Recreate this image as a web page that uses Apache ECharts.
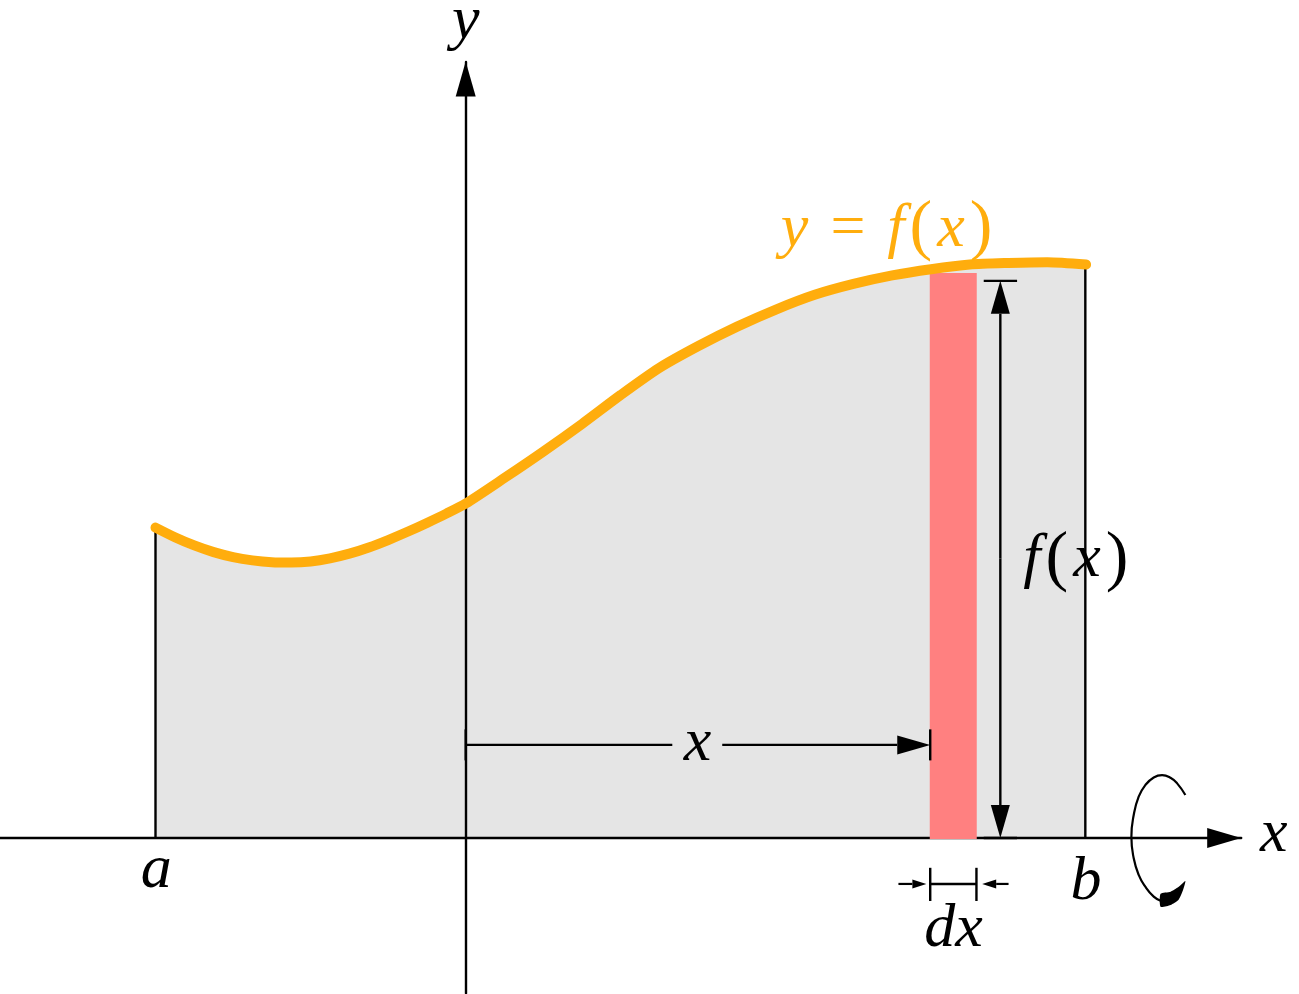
<!DOCTYPE html>
<html>
<head>
<meta charset="utf-8">
<style>html,body{margin:0;padding:0;background:#fff}#c{width:1299px;height:994px}</style>
<script src="https://cdn.jsdelivr.net/npm/echarts@6/dist/echarts.min.js"></script>
</head>
<body>
<div id="c"></div>
<script>
// curve y = f(x)
const curve = [[-2,2.00],[-1.875,1.938],[-1.75,1.885],[-1.625,1.842],[-1.5,1.81],[-1.375,1.789],[-1.25,1.777],[-1.125,1.775],
  [-1,1.782],[-0.875,1.802],[-0.75,1.832],[-0.625,1.872],[-0.5,1.92],[-0.375,1.973],[-0.25,2.03],[-0.125,2.09],
  [0,2.155],[0.25,2.32],[0.5,2.49],[0.75,2.668],[1,2.855],[1.25,3.03],[1.5,3.17],[1.75,3.295],[2,3.405],[2.25,3.50],
  [2.5,3.57],[2.75,3.625],[3,3.665],[3.25,3.695],[3.5,3.705],[3.75,3.71],[4,3.695]];
const strip = [[2.992,3.295,3.64]];
// thin line pieces [x1,y1,x2,y2]
const sides = [[-2,0,-2,2.0],[3.995,0,3.995,3.695]];
const dims = [[0,0.6,1.332,0.6],[0,0.5,0,0.7],[2.995,0.5,2.995,0.7],
  [3.34,3.59,3.555,3.59],[3.34,0,3.555,0],
  [2.995,-0.192,2.995,-0.406],[3.293,-0.192,3.293,-0.406],[2.995,-0.296,3.293,-0.296]];
// arrows [tailX,tailY,tipX,tipY]
const bigArrows = [[1.654,0.6,2.995,0.6],[3.447,1.8,3.447,3.59],[3.447,1.8,3.447,0]];
const smallArrows = [[2.79,-0.296,2.97,-0.296],[3.5,-0.296,3.33,-0.296]];
const turnArc = [[4.64,0.277],[4.587,0.352],[4.544,0.388],[4.49,0.405],[4.436,0.39],[4.382,0.341],[4.339,0.266],
  [4.307,0.148],[4.292,0.008],[4.307,-0.131],[4.339,-0.238],[4.382,-0.314],[4.436,-0.378],[4.48,-0.404]];
const turnHead = [[4.48,-0.36],[4.545,-0.346],[4.595,-0.316],[4.64,-0.277],[4.625,-0.335],[4.595,-0.40],[4.545,-0.432],[4.48,-0.443]];
const blackLabels = [
  [0,5.26,'{i|y}'],[5.21,0.02,'{i|x}'],[-1.995,-0.21,'{i|a}'],[4.0,-0.29,'{i|b}'],
  [3.145,-0.59,'{i|dx}'],[1.494,0.61,'{i|x}'],[3.95,1.79,'{i|f}{r|(}{i|x}{r|)}']
];
const orangeLabels = [[2.73,3.92,'{i|y}{e|=}{i|f}{r|(}{i|x}{r|)}']];

const ORANGE = '#ffad0d', GREY = '#e5e5e5', PINK = '#ff8080', BLACK = '#000';

function segSeries(data, z) {
  return { type:'custom', coordinateSystem:'cartesian2d', z, clip:false, silent:true,
    encode:{x:[0,2],y:[1,3]}, data,
    renderItem(p, api) {
      const a = api.coord([api.value(0),api.value(1)]), b = api.coord([api.value(2),api.value(3)]);
      return {type:'line', shape:{x1:a[0],y1:a[1],x2:b[0],y2:b[1]}, style:{stroke:BLACK,lineWidth:2.4,fill:null}};
    }};
}
function arrowSeries(data, len, half, lw) {
  return { type:'custom', coordinateSystem:'cartesian2d', z:6, clip:false, silent:true,
    encode:{x:[0,2],y:[1,3]}, data,
    renderItem(p, api) {
      const a = api.coord([api.value(0),api.value(1)]), b = api.coord([api.value(2),api.value(3)]);
      const d = Math.hypot(b[0]-a[0],b[1]-a[1]), ux=(b[0]-a[0])/d, uy=(b[1]-a[1])/d;
      const bx=b[0]-ux*len, by=b[1]-uy*len;
      return {type:'group',children:[
        {type:'line',shape:{x1:a[0],y1:a[1],x2:bx,y2:by},style:{stroke:BLACK,lineWidth:lw,fill:null}},
        {type:'polygon',shape:{points:[[b[0],b[1]],[bx-uy*half,by+ux*half],[bx+uy*half,by-ux*half]]},style:{fill:BLACK}}
      ]};
    }};
}
function labelSeries(data, color) {
  return { type:'scatter', z:8, symbolSize:1, silent:true, itemStyle:{color:'transparent',opacity:1}, data,
    clip:false,
    label:{show:true, position:'inside', color, opacity:1,
      formatter:p=>p.data[2],
      rich:{
        i:{fontFamily:'Liberation Serif',fontStyle:'italic',fontSize:62,color},
        r:{fontFamily:'Liberation Serif',fontSize:68,color,padding:[0,5,0,5]},
        e:{fontFamily:'Liberation Serif',fontSize:62,color,padding:[0,22,0,22]}
      }}};
}
const axisBase = {type:'value',splitLine:{show:false},axisTick:{show:false},axisLabel:{show:false},z:2};
const option = {
  animation:false,
  backgroundColor:'#fff',
  grid:{left:0.4,top:62,width:1240.8,height:931.2,containLabel:false},
  xAxis:{...axisBase,min:-3,max:5,
    axisLine:{show:true,onZero:true,symbol:['none','triangle'],symbolSize:[20,34],symbolOffset:[0,-17],lineStyle:{color:BLACK,width:2.4}}},
  yAxis:{...axisBase,min:-1,max:5,
    axisLine:{show:true,onZero:true,symbol:['none','triangle'],symbolSize:[20,35],symbolOffset:[0,-17],lineStyle:{color:BLACK,width:2.4}}},
  series:[
    {type:'line',z:1,data:curve,smooth:0.25,showSymbol:false,silent:true,lineStyle:{width:0},areaStyle:{color:GREY,opacity:1}},
    {type:'custom',coordinateSystem:'cartesian2d',z:3,clip:false,silent:true,encode:{x:[0,1],y:2},data:strip,
      renderItem(p,api){
        const a=api.coord([api.value(0),api.value(2)]), b=api.coord([api.value(1),0]);
        return {type:'rect',shape:{x:a[0],y:a[1],width:b[0]-a[0],height:b[1]-a[1]+1},style:{fill:PINK}};
      }},
    segSeries(sides,4),
    segSeries(dims,5),
    arrowSeries(bigArrows,33,9.5,2.4),
    arrowSeries(smallArrows,14,4.5,2.2),
    {type:'line',z:6,data:turnArc,smooth:0.5,showSymbol:false,silent:true,clip:false,lineStyle:{color:BLACK,width:2.2}},
    {type:'custom',coordinateSystem:'cartesian2d',z:6,clip:false,silent:true,data:[[turnHead[0][0],turnHead[0][1]]],
      renderItem(p,api){
        return {type:'polygon',shape:{points:turnHead.map(q=>api.coord(q)),smooth:0.2},style:{fill:BLACK}};
      }},
    {type:'line',z:7,data:curve,smooth:0.25,showSymbol:false,silent:true,clip:false,lineStyle:{color:ORANGE,width:10,cap:'round',join:'round'}},
    labelSeries(blackLabels,BLACK),
    labelSeries(orangeLabels,ORANGE)
  ]
};
const chart = echarts.init(document.getElementById('c'),null,{renderer:'canvas'});
chart.setOption(option);
</script>
</body>
</html>
